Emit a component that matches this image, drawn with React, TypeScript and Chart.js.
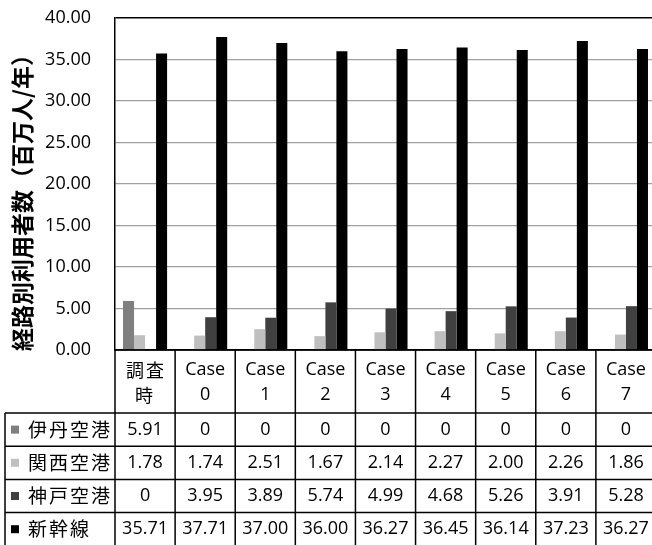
import React, { useEffect, useRef } from 'react';
import { Chart, registerables } from 'chart.js';

Chart.register(...registerables);

const categories = ['調査時', 'Case 0', 'Case 1', 'Case 2', 'Case 3', 'Case 4', 'Case 5', 'Case 6', 'Case 7'];
const categoryLines = [
  ['調査', '時'], ['Case', '0'], ['Case', '1'], ['Case', '2'], ['Case', '3'],
  ['Case', '4'], ['Case', '5'], ['Case', '6'], ['Case', '7'],
];
const seriesNames = ['伊丹空港', '関西空港', '神戸空港', '新幹線'];
const itami = [5.91, 0, 0, 0, 0, 0, 0, 0, 0];
const kansai = [1.78, 1.74, 2.51, 1.67, 2.14, 2.27, 2.0, 2.26, 1.86];
const kobe = [0, 3.95, 3.89, 5.74, 4.99, 4.68, 5.26, 3.91, 5.28];
const shinkansen = [35.71, 37.71, 37.0, 36.0, 36.27, 36.45, 36.14, 37.23, 36.27];
const seriesColors = ['#7f7f7f', '#bfbfbf', '#404040', '#000000'];
const yAxisTitle = '経路別利用者数（百万人/年）';
const yMin = 0;
const yMax = 40;
const yStep = 5;

const allSeries = [itami, kansai, kobe, shinkansen];

const NUM_FONT = '"Open Sans", "Noto Sans CJK JP", sans-serif';
const CJK_FONT = '"Noto Sans CJK JP", "Open Sans", sans-serif';

const fmt = (v: number) => (v === 0 ? '0' : v.toFixed(2));

const tablePlugin = {
  id: 'dataTable',
  afterDraw(chart: any) {
    const { ctx, chartArea } = chart;
    const x = chart.scales.x;
    const n = categories.length;
    const colW = (chartArea.right - chartArea.left) / n;
    const top = chartArea.bottom;
    const headerH = 63;
    const rowH = 33.2;
    const tableLeft = 5;
    const bottom = chart.height;
    ctx.save();
    ctx.strokeStyle = '#000';
    ctx.lineWidth = 1.5;
    ctx.beginPath();
    for (let i = 0; i <= n; i++) {
      const px = chartArea.left + i * colW;
      ctx.moveTo(px, top);
      ctx.lineTo(px, bottom);
    }
    ctx.moveTo(tableLeft, top + headerH);
    ctx.lineTo(tableLeft, bottom);
    ctx.moveTo(chartArea.left, top);
    ctx.lineTo(chartArea.right, top);
    for (let r = 0; r < seriesNames.length; r++) {
      const py = top + headerH + r * rowH;
      ctx.moveTo(tableLeft, py);
      ctx.lineTo(chartArea.right, py);
    }
    ctx.stroke();

    ctx.fillStyle = '#000';
    ctx.textBaseline = 'middle';
    ctx.textAlign = 'center';
    // header
    for (let i = 0; i < n; i++) {
      const cx = x.getPixelForValue(i);
      const [l1, l2] = categoryLines[i];
      const isCjk = /[^\x00-\x7f]/.test(l1);
      ctx.font = isCjk ? `18px ${CJK_FONT}` : `18px ${NUM_FONT}`;
      (ctx as any).letterSpacing = isCjk ? '2px' : '0px';
      ctx.fillText(l1, cx + (isCjk ? 1 : 0), top + 20);
      ctx.fillText(l2, cx, top + 45);
    }
    (ctx as any).letterSpacing = '0px';
    // rows
    for (let r = 0; r < seriesNames.length; r++) {
      const cy = top + headerH + r * rowH + rowH / 2;
      ctx.fillStyle = seriesColors[r];
      ctx.fillRect(11, cy - 4, 8, 8);
      ctx.fillStyle = '#000';
      ctx.textAlign = 'left';
      ctx.font = `19px ${CJK_FONT}`;
      (ctx as any).letterSpacing = '2px';
      ctx.fillText(seriesNames[r], 28, cy);
      (ctx as any).letterSpacing = '0px';
      ctx.textAlign = 'center';
      ctx.font = `18px ${NUM_FONT}`;
      const vals = allSeries[r];
      for (let i = 0; i < n; i++) {
        ctx.fillText(fmt(vals[i]), x.getPixelForValue(i), cy);
      }
    }

    // y-axis title
    ctx.save();
    ctx.translate(22, 197);
    ctx.rotate(-Math.PI / 2);
    ctx.font = `bold 23px ${CJK_FONT}`;
    ctx.textAlign = 'center';
    ctx.textBaseline = 'middle';
    ctx.fillText(yAxisTitle, 0, 0);
    ctx.restore();

    ctx.restore();
  },
};

export default function App() {
  const ref = useRef<HTMLCanvasElement>(null);
  useEffect(() => {
    if (!ref.current) return;
    const chart = new Chart(ref.current, {
      type: 'bar',
      data: {
        labels: categories,
        datasets: seriesNames.map((name, i) => ({
          label: name,
          data: allSeries[i],
          backgroundColor: seriesColors[i],
          borderWidth: 0,
          categoryPercentage: 0.733,
          barPercentage: 1,
        })),
      },
      options: {
        responsive: false,
        animation: false,
        layout: { padding: { top: 18, left: 0, right: 0, bottom: 0 } },
        plugins: { legend: { display: false }, tooltip: { enabled: false }, title: { display: false } },
        scales: {
          x: {
            grid: { display: false },
            border: { display: true, color: '#000', width: 1.5 },
            ticks: { display: false },
            afterFit: (scale: any) => {
              scale.height = 195;
            },
          },
          y: {
            min: yMin,
            max: yMax,
            ticks: {
              stepSize: yStep,
              padding: 0,
              color: '#000',
              font: { family: NUM_FONT, size: 18 },
              callback: (v: any) => Number(v).toFixed(2),
            },
            grid: {
              drawTicks: true,
              tickLength: 24,
              tickColor: 'rgba(0,0,0,0)',
              color: (c: any) => (c.tick && c.tick.value === yMax ? '#000' : '#a0a0a0'),
              lineWidth: (c: any) => (c.tick && c.tick.value === yMax ? 1.5 : 1.2),
            },
            border: { display: true, color: '#000', width: 1.5 },
            afterFit: (scale: any) => {
              scale.width = 115;
            },
          },
        },
      },
      plugins: [tablePlugin],
    });
    return () => chart.destroy();
  }, []);
  return (
    <div style={{ position: 'fixed', left: 0, top: 0, width: 652, height: 545, overflow: 'hidden', background: '#fff' }}>
      <canvas ref={ref} width={656} height={545} style={{ display: 'block' }} />
    </div>
  );
}
